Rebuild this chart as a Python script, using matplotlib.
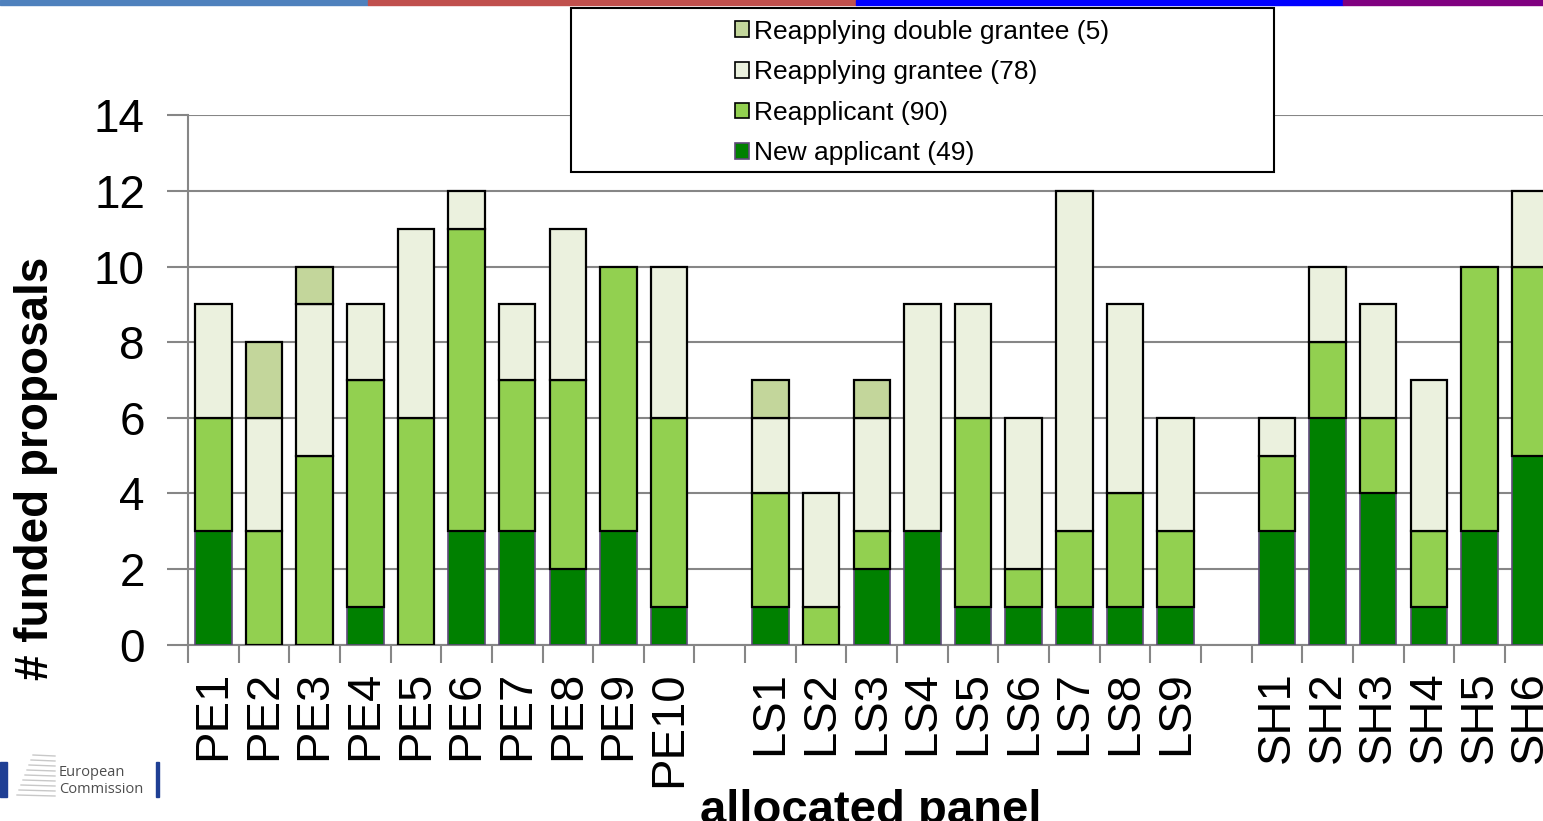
import matplotlib
matplotlib.use("Agg")
import matplotlib.pyplot as plt
from matplotlib.patches import Rectangle, Patch
from matplotlib.lines import Line2D

plt.rcParams['font.family'] = ['Liberation Sans', 'DejaVu Sans']

# ---- data (None = empty separator slot) ----
panels = ['PE1', 'PE2', 'PE3', 'PE4', 'PE5', 'PE6', 'PE7', 'PE8', 'PE9', 'PE10', None,
          'LS1', 'LS2', 'LS3', 'LS4', 'LS5', 'LS6', 'LS7', 'LS8', 'LS9', None,
          'SH1', 'SH2', 'SH3', 'SH4', 'SH5', 'SH6']
new_applicant = [3, 0, 0, 1, 0, 3, 3, 2, 3, 1, None,
                 1, 0, 2, 3, 1, 1, 1, 1, 1, None,
                 3, 6, 4, 1, 3, 5]
reapplicant = [3, 3, 5, 6, 6, 8, 4, 5, 7, 5, None,
               3, 1, 1, 0, 5, 1, 2, 3, 2, None,
               2, 2, 2, 2, 7, 5]
reapplying_grantee = [3, 3, 4, 2, 5, 1, 2, 4, 0, 4, None,
                      2, 3, 3, 6, 3, 4, 9, 5, 3, None,
                      1, 2, 3, 4, 0, 2]
reapplying_double = [0, 2, 1, 0, 0, 0, 0, 0, 0, 0, None,
                     1, 0, 1, 0, 0, 0, 0, 0, 0, None,
                     0, 0, 0, 0, 0, 0]
series_names = ['New applicant (49)', 'Reapplicant (90)',
                'Reapplying grantee (78)', 'Reapplying double grantee (5)']
series_colors = ['#008000', '#92D050', '#EBF1DE', '#C3D69B']
series_edges = ['#5F497A', 'black', 'black', 'black']
yticks = [0, 2, 4, 6, 8, 10, 12, 14]

W, H = 1543, 821
fig = plt.figure(figsize=(W / 100, H / 100), dpi=100)
fig.patch.set_facecolor('white')

# axes geometry (extends beyond the right edge, like the cropped slide)
left_px, right_px, top_px, bottom_px = 188, 1555.5, 115.5, 644.5
ax = fig.add_axes([left_px / W, 1 - bottom_px / H,
                   (right_px - left_px) / W, (bottom_px - top_px) / H])

n = len(panels)
grey = '#868686'
series = [new_applicant, reapplicant, reapplying_grantee, reapplying_double]
bottoms = [0] * n
for vals, col, ec in zip(series, series_colors, series_edges):
    xs, hs, bs = [], [], []
    for i in range(n):
        if panels[i] is None:
            continue
        v = vals[i]
        if v:
            xs.append(i); hs.append(v); bs.append(bottoms[i])
        bottoms[i] += v
    ax.bar(xs, hs, bottom=bs, width=0.72, color=col, edgecolor=ec,
           linewidth=1.6 if ec == 'black' else 1.2, zorder=3)

ax.set_xlim(-0.5, n - 0.5)
ax.set_ylim(0, 14)
ax.set_yticks(yticks)
ax.set_yticklabels([str(t) for t in yticks], fontsize=33)
ax.yaxis.grid(True, color=grey, linewidth=1.5, zorder=0)
ax.set_axisbelow(True)

pos = [i for i in range(n) if panels[i] is not None]
ax.set_xticks(pos)
ax.set_xticklabels([panels[i] for i in pos], rotation=90, fontsize=34,
                   va='top', ha='center')
ax.set_xticks([i - 0.5 for i in range(n + 1)], minor=True)
ax.tick_params(axis='x', which='major', length=0, pad=19)
ax.tick_params(axis='x', which='minor', length=13, width=1.5, color=grey)
ax.tick_params(axis='y', length=15, width=1.5, color=grey, pad=16)

for s in ['top', 'right']:
    ax.spines[s].set_visible(False)
for s in ['left', 'bottom']:
    ax.spines[s].set_color(grey)
    ax.spines[s].set_linewidth(1.5)

# axis titles
fig.text(36 / W, 1 - 468 / H, '# funded proposals', rotation=90, fontsize=33,
         fontweight='bold', ha='center', va='center')
fig.text(871 / W, 1 - 789 / H, 'allocated panel', fontsize=34,
         fontweight='bold', ha='center', va='top')

# legend box
fig.patches.append(Rectangle((571 / W, 1 - 172 / H), (1274 - 571) / W, (172 - 8) / H,
                             transform=fig.transFigure, facecolor='white',
                             edgecolor='black', linewidth=1.5, zorder=5))
handles = [Patch(facecolor=c, edgecolor=('#5F497A' if i == 0 else 'black'), linewidth=1.2)
           for i, c in enumerate(series_colors)]
leg = fig.legend(handles[::-1], series_names[::-1], loc='center',
                 bbox_to_anchor=(922 / W, 1 - 92.5 / H), frameon=False, fontsize=19,
                 handlelength=0.55, handleheight=0.55, handletextpad=0.2,
                 labelspacing=0.63, borderpad=0)
leg.set_zorder(6)

# decorative top stripes
for x0, x1, c in [(0, 368, '#4F81BD'), (368, 856, '#C0504D'),
                  (856, 1343, '#0000FF'), (1343, 1543, '#800080')]:
    fig.patches.append(Rectangle((x0 / W, 1 - 5 / H), (x1 - x0) / W, 5 / H,
                                 transform=fig.transFigure, color=c, zorder=7))

# logo
fig.patches.append(Rectangle((0, 1 - 797 / H), 7 / W, 35 / H,
                             transform=fig.transFigure, color='#1F3F94', zorder=7))
fig.patches.append(Rectangle((156 / W, 1 - 797 / H), 3 / W, 35 / H,
                             transform=fig.transFigure, color='#1F3F94', zorder=7))
for k in range(9):
    y = 795 - k * 5
    fig.lines.append(Line2D([(17 + k * 2) / W, 55 / W], [1 - y / H, 1 - (y + 1) / H],
                            transform=fig.transFigure, color='#C8C8C8', linewidth=1))
fig.text(59 / W, 1 - 772 / H, 'European', fontsize=10.5, color='#4D4D4D',
         family=['Open Sans', 'DejaVu Sans'], va='center', ha='left')
fig.text(59 / W, 1 - 789 / H, 'Commission', fontsize=10.5, color='#4D4D4D',
         family=['Open Sans', 'DejaVu Sans'], va='center', ha='left')

fig.savefig('out.png', dpi=100)
